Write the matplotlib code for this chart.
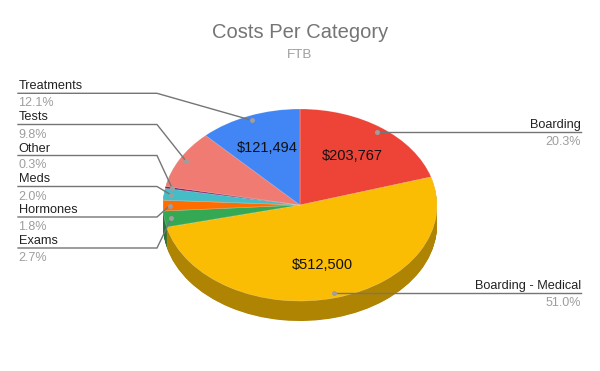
import numpy as np
import matplotlib
matplotlib.use("Agg")
import matplotlib.pyplot as plt
from matplotlib.colors import to_rgb

plt.rcParams['font.family'] = ['Liberation Sans', 'DejaVu Sans']

categories = ["Boarding", "Boarding - Medical", "Exams", "Hormones", "Meds", "Other", "Tests", "Treatments"]
costs = [203767, 512500, 27100, 18100, 20100, 3000, 98400, 121494]
colors = ["#EE4337", "#FBBC04", "#34A853", "#FF6D01", "#46BDC6", "#7B1E6E", "#F07B72", "#4285F4"]
value_labels = ["$203,767", "$512,500", None, None, None, None, None, "$121,494"]
label_rows = [None, None, 248.0, 217.0, 186.5, 155.5, 124.5, 93.3]

W, H = 600, 371
CX, CY, RX, RY, DEPTH = 300, 205, 137, 96, 20

fig = plt.figure(figsize=(W / 100, H / 100), dpi=100, facecolor="white")
ax = fig.add_axes([0, 0, 1, 1])
dark = [tuple(c * 0.7 for c in to_rgb(col)) for col in colors]
for k in np.arange(DEPTH, 0, -0.5):
    ax.pie(costs, colors=dark, startangle=90, counterclock=False, radius=1,
           center=(0, -k / RY), wedgeprops=dict(linewidth=0))
ax.pie(costs, colors=colors, startangle=90, counterclock=False, radius=1,
       center=(0, 0), wedgeprops=dict(linewidth=0.4, edgecolor="#ffffff60"))
ax.set_aspect("auto")
ax.set_xlim(-CX / RX, (W - CX) / RX)
ax.set_ylim(-(H - CY) / RY, CY / RY)
ax.axis("off")

ov = fig.add_axes([0, 0, 1, 1], facecolor="none")
ov.set_xlim(0, W)
ov.set_ylim(H, 0)
ov.axis("off")

vals = np.array(costs, dtype=float)
shares = vals / vals.sum()
mids = (np.cumsum(shares) - shares / 2) * 2 * np.pi


def pt(angle, r):
    return CX + RX * r * np.sin(angle), CY - RY * r * np.cos(angle)


LC = "#757575"
for name, share, mid, row, vl in zip(categories, shares, mids, label_rows, value_labels):
    dx, dy = pt(mid, 0.95)
    if row is None:
        row = dy
        xs, ys = [dx, 581], [dy, dy]
        tx, ha = 581, "right"
    else:
        xs, ys = [18, 157, dx], [row, row, dy]
        tx, ha = 18.5, "left"
    ov.plot(xs, ys, color=LC, lw=1, solid_joinstyle="miter", zorder=3)
    ov.plot([dx], [dy], "o", color="#9E9E9E", ms=3.6, mew=0, zorder=4)
    ov.text(tx, row - 4, name, ha=ha, va="baseline", fontsize=9.2, color="#222222")
    ov.text(tx, row + 13, f"{share * 100:.1f}%", ha=ha, va="baseline", fontsize=9.0, color="#9E9E9E")
    if vl:
        vx, vy = pt(mid, 0.64)
        ov.text(vx, vy + 4.5, vl, ha="center", va="baseline", fontsize=10.5, color="#111111", zorder=5)

ov.text(300, 38, "Costs Per Category", ha="center", va="baseline", fontsize=14.5, color="#757575")
ov.text(300, 58, "FTB", ha="center", va="baseline", fontsize=9.6, color="#9E9E9E")

fig.savefig("out.png", dpi=100, facecolor="white")
